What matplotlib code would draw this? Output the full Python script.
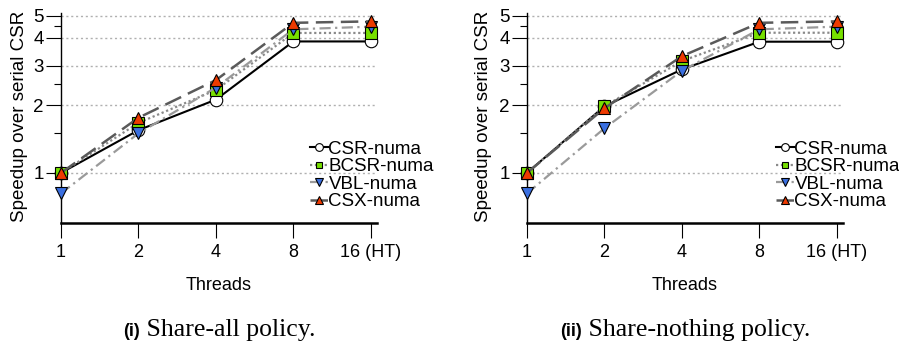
import matplotlib
matplotlib.use("Agg")
import matplotlib.pyplot as plt
from matplotlib.ticker import FixedLocator, NullFormatter

plt.rcParams['font.family'] = ['Liberation Sans', 'DejaVu Sans']

threads = ["1", "2", "4", "8", "16 (HT)"]
series_names = ["CSR-numa", "BCSR-numa", "VBL-numa", "CSX-numa"]

share_all_csr = [1.0, 1.55, 2.12, 3.85, 3.85]
share_all_bcsr = [1.0, 1.67, 2.34, 4.2, 4.2]
share_all_vbl = [0.81, 1.5, 2.4, 4.36, 4.48]
share_all_csx = [1.0, 1.76, 2.59, 4.66, 4.73]

share_nothing_csr = [1.0, 1.98, 2.89, 3.84, 3.84]
share_nothing_bcsr = [1.0, 1.98, 3.15, 4.21, 4.21]
share_nothing_vbl = [0.81, 1.58, 2.85, 4.36, 4.48]
share_nothing_csx = [1.0, 1.94, 3.31, 4.66, 4.73]

y_ticks = [1, 2, 3, 4, 5]
y_minor = [1.5, 2.5, 4.5]

styles = [
    dict(color="black", ls="-", lw=1.5, marker="o", mfc="white", ms=9),
    dict(color="#8a8a8a", ls=(0, (1, 1.2)), lw=1.6, marker="s", mfc="#77e000", ms=8),
    dict(color="#9a9a9a", ls=(0, (5, 2, 1, 2)), lw=1.6, marker="v", mfc="#3a6fe0", ms=9),
    dict(color="#5a5a5a", ls=(0, (7, 3)), lw=1.8, marker="^", mfc="#ee3a00", ms=9),
]

W, H = 899, 343
fig = plt.figure(figsize=(W / 100, H / 100), dpi=100)

panels = [
    (61, [share_all_csr, share_all_bcsr, share_all_vbl, share_all_csx],
     "(i)", " Share-all policy.", 20),
    (527, [share_nothing_csr, share_nothing_bcsr, share_nothing_vbl, share_nothing_csx],
     "(ii)", " Share-nothing policy.", 484),
]

for x0, data, tag, cap, ylab_x in panels:
    ax = fig.add_axes([x0 / W, 1 - 222.7 / H, 316 / W, 210 / H])
    xs = list(range(len(threads)))
    for vals, name, st in zip(data, series_names, styles):
        ax.plot(xs, vals, label=name, color=st["color"], ls=st["ls"], lw=st["lw"],
                marker=st["marker"], mfc=st["mfc"], mec="black", mew=0.8,
                ms=st["ms"], clip_on=False, zorder=3)
    ax.set_yscale("log")
    ax.set_ylim(0.6, 5.17)
    ax.set_xlim(0, 4.08)
    ax.yaxis.set_major_locator(FixedLocator(y_ticks))
    ax.yaxis.set_minor_locator(FixedLocator(y_minor))
    ax.yaxis.set_minor_formatter(NullFormatter())
    ax.set_yticklabels([str(v) for v in y_ticks])
    ax.set_xticks(xs)
    ax.set_xticklabels(threads)
    for v in y_ticks:
        ax.axhline(v, color="#b0b0b0", ls=(0, (1.5, 2)), lw=1.0, zorder=1)
    for s in ["top", "right"]:
        ax.spines[s].set_visible(False)
    ax.spines["bottom"].set_linewidth(1.8)
    ax.spines["left"].set_linewidth(1.0)
    ax.tick_params(axis="x", which="major", direction="out", length=11, width=0.8,
                   labelsize=13, pad=4)
    ax.tick_params(axis="y", which="major", direction="out", length=11, width=0.8,
                   labelsize=13.5, pad=1.5)
    ax.tick_params(axis="y", which="minor", direction="out", length=5, width=0.8)
    ax.set_xlabel("Threads", fontsize=13, labelpad=12)
    fig.text(ylab_x / W, 1 - 116 / H, "Speedup over serial CSR", rotation=90,
             ha="center", va="center", fontsize=13.5)
    leg = ax.legend(loc="upper left", bbox_to_anchor=(0.787, 0.39), frameon=False,
                    fontsize=13.5, handlelength=1.0, handletextpad=0.0,
                    labelspacing=0.02, borderpad=0, borderaxespad=0,
                    markerscale=0.62)
    # caption
    t1 = fig.text(0, 0, tag, fontsize=13, fontweight="bold", family="Liberation Sans")
    t2 = fig.text(0, 0, cap, fontsize=18.5, family="Liberation Serif")
    fig.canvas.draw()
    r = fig.canvas.get_renderer()
    w1 = t1.get_window_extent(r).width
    w2 = t2.get_window_extent(r).width
    total = w1 + w2
    start = (x0 + 158) - total / 2
    yb = 1 - 336 / H
    t1.set_position((start / W, yb))
    t1.set_va("baseline")
    t2.set_position(((start + w1) / W, yb))
    t2.set_va("baseline")

fig.savefig("out.png", dpi=100)
